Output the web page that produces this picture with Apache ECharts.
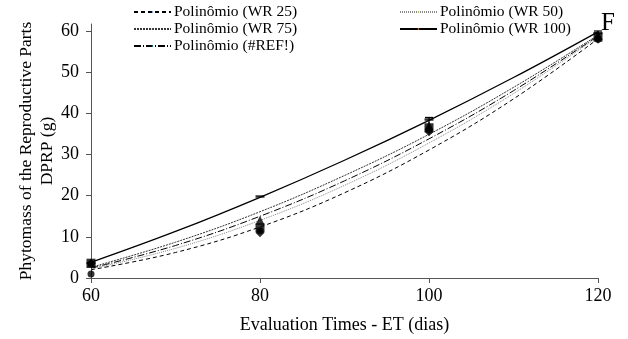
<!DOCTYPE html>
<html><head><meta charset="utf-8">
<script src="https://cdn.jsdelivr.net/npm/echarts@6/dist/echarts.min.js"></script>
<style>html,body{margin:0;padding:0;background:#fff}#c{width:628px;height:339px}</style>
</head><body><div id="c"></div>
<script>
// Evaluation times (days)
const times = [60, 80, 100, 120];
// Trend curve samples
const trendX = [60, 70, 80, 90, 100, 110, 120];
const trendWR25 = [2.0, 6.2, 12.4, 20.7, 31.1, 43.5, 58.1];
const trendWR50 = [2.2, 7.2, 14.0, 22.5, 32.8, 44.8, 58.6];
const trendWR75 = [2.6, 8.7, 16.1, 24.9, 34.9, 46.3, 59.0];
const trendWR100 = [3.8, 11.3, 19.6, 28.6, 38.3, 48.7, 59.8];
const trendREF = [2.4, 7.9, 15.0, 23.6, 33.8, 45.5, 58.8];
// Observed means
const obsWR25 = [3.6, 11.0, 35.5, 58.0];
const obsWR50 = [3.6, 12.2, 36.5, 58.5];
const obsWR75 = [3.6, 14.0, 37.0, 59.0];
const obsWR100 = [3.6, 19.8, 38.5, 59.5];
const obsREF = [1.0, 11.5, 36.0, 58.0];
// Error bars [x, low, high]
const errBars = [[100, 35.0, 39.0], [120, 57.5, 60.0]];
const yTicks = [0, 10, 20, 30, 40, 50, 60];

const legendNames = ['Polinômio (WR 25)', 'Polinômio (WR 50)', 'Polinômio (WR 75)', 'Polinômio (WR 100)', 'Polinômio (#REF!)'];

const chart = echarts.init(document.getElementById('c'), null, {renderer: 'canvas'});
const font = 'Liberation Serif, Times New Roman, serif';
function pair(xs, ys) { return xs.map((x, i) => [x, ys[i]]); }
function trend(name, data, lineStyle) {
  return {type: 'line', name, data: pair(trendX, data), smooth: 0.4, symbol: 'none', lineStyle, z: 3, silent: true};
}
function obs(data, symbol, size) {
  return {type: 'scatter', name: 'obs', data: pair(times, data), symbol, symbolSize: size, itemStyle: {color: '#000'}, z: 5};
}
const legendPos = [[133, 4], [399, 4], [133, 21], [399, 21], [133, 38]];
const legends = legendNames.map((n, i) => ({
  data: [n], left: legendPos[i][0], top: legendPos[i][1], itemWidth: 37, itemHeight: 2, itemGap: 4,
  textStyle: {fontFamily: font, fontSize: 15.5, color: '#000', padding: [0, 0, 0, -2]}, selectedMode: false, padding: 0
}));
chart.setOption({
  animation: false,
  backgroundColor: '#fff',
  legend: legends,
  grid: {left: 91, right: 30, top: 24, bottom: 57},
  xAxis: {
    type: 'value', min: 60, max: 120, interval: 20,
    name: 'Evaluation Times - ET (dias)', nameLocation: 'middle', nameGap: 38,
    nameTextStyle: {fontFamily: font, fontSize: 18, color: '#000'},
    axisLine: {lineStyle: {color: '#555', width: 1}},
    axisTick: {show: true, inside: false, length: 5, lineStyle: {color: '#555'}},
    axisLabel: {fontFamily: font, fontSize: 18, color: '#000', margin: 9},
    splitLine: {show: false}
  },
  yAxis: {
    type: 'value', min: 0, max: 61.7,
    name: 'Phytomass of the Reproductive Parts\nDPRP (g)', nameLocation: 'middle', nameGap: 33, nameRotate: 90,
    nameMoveOverlap: false,
    nameTextStyle: {fontFamily: font, fontSize: 17.5, color: '#000', lineHeight: 21},
    axisLine: {show: true, lineStyle: {color: '#555', width: 1}},
    axisTick: {show: true, inside: false, length: 5, lineStyle: {color: '#555'}, customValues: yTicks},
    axisLabel: {fontFamily: font, fontSize: 18, color: '#000', margin: 12, customValues: yTicks},
    splitLine: {show: false}
  },
  graphic: [{type: 'text', left: 601, top: 11, style: {text: 'F', fontFamily: font, fontSize: 25, fill: '#000'}}],
  series: [
    trend(legendNames[0], trendWR25, {color: '#000', width: 1, type: [4, 3]}),
    trend(legendNames[1], trendWR50, {color: '#888', width: 1, type: [1, 1]}),
    trend(legendNames[2], trendWR75, {color: '#333', width: 1, type: [2, 1]}),
    trend(legendNames[3], trendWR100, {color: '#000', width: 1.3, type: 'solid'}),
    trend(legendNames[4], trendREF, {color: '#000', width: 1, type: [7, 2, 1, 2]}),
    {
      type: 'custom', name: 'err', data: errBars, z: 4,
      renderItem: function (params, api) {
        const lo = api.coord([api.value(0), api.value(1)]);
        const hi = api.coord([api.value(0), api.value(2)]);
        return {type: 'group', children: [
          {type: 'line', shape: {x1: lo[0], y1: lo[1], x2: hi[0], y2: hi[1]}, style: {stroke: '#000', lineWidth: 1.2}},
          {type: 'line', shape: {x1: hi[0] - 4, y1: hi[1], x2: hi[0] + 4, y2: hi[1]}, style: {stroke: '#000', lineWidth: 1.2}}
        ]};
      }
    },
    obs(obsWR25, 'diamond', 9),
    obs(obsWR50, 'rect', 9),
    obs(obsWR75, 'triangle', 9),
    obs(obsWR100, 'rect', [9, 2.5]),
    obs(obsREF, 'circle', 7)
  ]
});
</script></body></html>
